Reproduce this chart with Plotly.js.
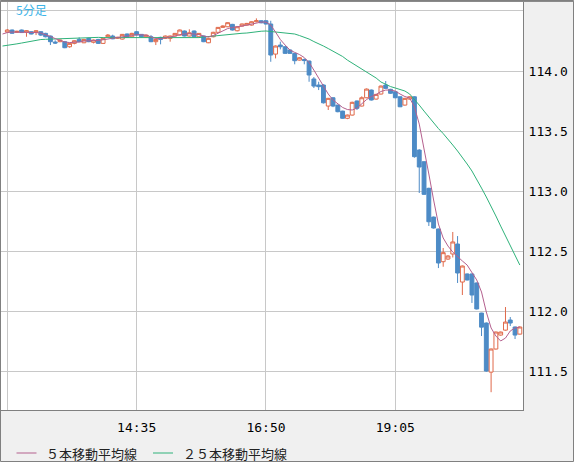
<!DOCTYPE html>
<html>
<head>
<meta charset="utf-8">
<script src="https://cdn.plot.ly/plotly-3.0.1.min.js"></script>
<style>html,body{margin:0;padding:0;background:#f0f0f0;}#chart{width:574px;height:462px;}</style>
</head>
<body>
<div id="chart"></div>
<script>
// 5-minute bars, 12:20 .. 21:15
const openP = [114.324,114.341,114.322,114.341,114.324,114.327,114.322,114.327,114.313,114.291,
114.241,114.244,114.244,114.202,114.230,114.263,114.235,114.272,114.239,114.263,
114.230,114.285,114.291,114.272,114.266,114.308,114.285,114.327,114.305,114.285,
114.285,114.244,114.280,114.272,114.272,114.291,114.299,114.333,114.291,114.333,
114.285,114.291,114.235,114.285,114.322,114.363,114.368,114.388,114.335,114.374,
114.382,114.382,114.410,114.418,114.418,114.391,114.141,114.216,114.202,114.175,
114.147,114.091,114.096,114.083,113.934,113.884,113.884,113.709,113.778,113.717,
113.667,113.607,113.634,113.751,113.709,113.778,113.842,113.767,113.809,113.884,
113.848,113.828,113.786,113.717,113.767,113.786,113.343,113.246,113.025,112.786,
112.687,112.415,112.437,112.479,112.562,112.246,112.313,112.313,112.238,111.988,
111.905,111.497,111.689,111.805,111.846,111.930,111.872,111.813];
const highP = [114.349,114.345,114.335,114.345,114.340,114.330,114.341,114.330,114.318,114.295,
114.255,114.262,114.250,114.235,114.255,114.280,114.267,114.276,114.262,114.267,
114.275,114.308,114.302,114.284,114.308,114.312,114.318,114.333,114.308,114.302,
114.299,114.267,114.285,114.295,114.295,114.316,114.345,114.337,114.347,114.337,
114.316,114.295,114.276,114.326,114.366,114.380,114.405,114.392,114.372,114.395,
114.400,114.413,114.438,114.422,114.422,114.418,114.212,114.244,114.208,114.180,
114.150,114.115,114.105,114.087,113.950,113.911,113.890,113.777,113.782,113.720,
113.670,113.638,113.745,113.755,113.790,113.855,113.846,113.810,113.880,113.917,
113.852,113.832,113.790,113.777,113.790,113.790,113.350,113.250,113.030,112.790,
112.690,112.529,112.470,112.662,112.628,112.383,112.317,112.317,112.242,111.990,
111.910,111.693,111.834,111.834,112.038,111.955,111.876,111.876];
const lowP = [114.316,114.310,114.318,114.316,114.285,114.305,114.299,114.291,114.280,114.216,
114.225,114.240,114.190,114.194,114.222,114.240,114.232,114.240,114.230,114.226,
114.226,114.282,114.265,114.268,114.262,114.276,114.280,114.295,114.280,114.282,
114.240,114.216,114.222,114.268,114.244,114.288,114.295,114.288,114.288,114.282,
114.280,114.240,114.232,114.280,114.318,114.360,114.365,114.337,114.330,114.370,
114.378,114.378,114.405,114.397,114.388,114.077,114.105,114.180,114.143,114.143,
114.056,114.088,114.056,113.911,113.859,113.842,113.730,113.676,113.700,113.657,
113.603,113.600,113.630,113.676,113.705,113.774,113.755,113.763,113.805,113.853,
113.810,113.774,113.700,113.713,113.763,113.280,112.986,112.970,112.712,112.690,
112.362,112.373,112.430,112.450,112.238,112.138,112.259,112.072,112.018,111.797,
111.500,111.330,111.685,111.800,111.842,111.880,111.772,111.810];
const closeP = [114.341,114.314,114.330,114.320,114.335,114.308,114.335,114.299,114.285,114.244,
114.233,114.258,114.194,114.230,114.252,114.244,114.263,114.244,114.258,114.230,
114.272,114.299,114.268,114.280,114.305,114.280,114.313,114.299,114.285,114.299,
114.244,114.263,114.263,114.291,114.291,114.313,114.341,114.291,114.318,114.285,
114.313,114.244,114.272,114.322,114.363,114.374,114.402,114.341,114.368,114.391,
114.396,114.410,114.418,114.401,114.391,114.133,114.208,114.202,114.147,114.147,
114.086,114.111,114.087,113.967,113.875,113.870,113.736,113.773,113.709,113.662,
113.607,113.634,113.740,113.690,113.778,113.850,113.759,113.806,113.875,113.856,
113.815,113.778,113.703,113.773,113.786,113.288,113.202,112.975,112.747,112.695,
112.404,112.490,112.462,112.579,112.321,112.379,112.263,112.138,112.022,111.871,
111.506,111.689,111.830,111.830,111.913,111.905,111.805,111.872];
// moving averages, 12:15 .. 21:15
const ma5 = [114.308,
114.320,114.324,114.324,114.324,114.324,114.320,114.320,114.316,114.303,114.287,
114.270,114.254,114.241,114.237,114.237,114.241,114.249,114.254,114.254,114.254,
114.258,114.266,114.274,114.278,114.283,114.291,114.295,114.303,114.303,114.299,
114.283,114.270,114.270,114.274,114.283,114.291,114.303,114.308,114.312,114.308,
114.303,114.291,114.283,114.295,114.316,114.337,114.353,114.362,114.366,114.374,
114.382,114.391,114.403,114.407,114.407,114.382,114.324,114.262,114.216,114.175,
114.155,114.137,114.112,114.071,114.008,113.942,113.875,113.809,113.759,113.726,
113.697,113.680,113.676,113.692,113.726,113.763,113.788,113.805,113.830,113.842,
113.842,113.834,113.809,113.788,113.776,113.701,113.559,113.360,113.144,112.928,
112.728,112.612,112.545,112.495,112.462,112.421,112.387,112.329,112.263,112.163,
111.997,111.864,111.797,111.756,111.780,111.839,111.864,111.872];
const ma25 = [114.208,
114.212,114.220,114.226,114.233,114.241,114.249,114.255,114.262,114.264,114.266,
114.268,114.269,114.271,114.272,114.274,114.276,114.278,114.280,114.280,114.280,
114.278,114.278,114.278,114.277,114.277,114.277,114.276,114.274,114.274,114.273,
114.272,114.272,114.272,114.273,114.274,114.276,114.276,114.276,114.277,114.278,
114.278,114.283,114.287,114.293,114.299,114.303,114.305,114.308,114.312,114.314,
114.316,114.322,114.327,114.331,114.333,114.328,114.324,114.319,114.316,114.313,
114.308,114.295,114.283,114.266,114.245,114.229,114.208,114.187,114.166,114.141,
114.121,114.091,114.067,114.042,114.017,113.992,113.967,113.942,113.909,113.888,
113.871,113.859,113.846,113.834,113.809,113.767,113.717,113.667,113.618,113.568,
113.522,113.480,113.435,113.385,113.335,113.285,113.227,113.169,113.102,113.027,
112.953,112.878,112.795,112.711,112.628,112.545,112.462,112.387];
const xTickVals = ['2016-06-24 12:20','2016-06-24 14:35','2016-06-24 16:50','2016-06-24 19:05'];
const xTickText = ['','14:35','16:50','19:05'];
const yTickVals = [111.5,112.0,112.5,113.0,113.5,114.0,114.5];
const yTickText = ['111.5','112.0','112.5','113.0','113.5','114.0',''];
const legendNames = ['５本移動平均線','２５本移動平均線'];
const periodLabel = '5分足';

const DAY = '2016-06-24 ';
function fmt(m){const h=Math.floor(m/60),mm=m%60;return DAY+String(h).padStart(2,'0')+':'+String(mm).padStart(2,'0');}
const maTimes = ma5.map((_,i)=>fmt(12*60+15+5*i));
const candleTimes = maTimes.slice(1);

const C_UP='#e0694a', C_DN='#4d8bc6', C_MA5='#b4608e', C_MA25='#2fb27a';

const traces = [
 {type:'candlestick', x:candleTimes, open:openP, high:highP, low:lowP, close:closeP,
  increasing:{line:{color:C_UP,width:1}, fillcolor:'#ffffff'},
  decreasing:{line:{color:C_DN,width:1}, fillcolor:C_DN},
  whiskerwidth:0, showlegend:false, hoverinfo:'skip'},
 {type:'scatter', mode:'lines', x:maTimes, y:ma25, name:legendNames[1], line:{color:C_MA25,width:1}, showlegend:false, hoverinfo:'skip'},
 {type:'scatter', mode:'lines', x:maTimes, y:ma5, name:legendNames[0], line:{color:C_MA5,width:1}, showlegend:false, hoverinfo:'skip'}
];

// pixel helpers for paper coords (plot area: x 1..523, y 2..410)
const px=(v)=>(v-1)/522, py=(v)=>(410-v)/408;
const mono={family:'DejaVu Sans Mono, monospace', size:13, color:'#000000'};
const layout = {
 width:574, height:462,
 margin:{l:1,r:51,t:2,b:52,pad:0},
 paper_bgcolor:'#f0f0f0', plot_bgcolor:'#ffffff',
 showlegend:false, hovermode:false,
 boxgap:0.15, boxgroupgap:0.05,
 xaxis:{type:'date', range:['2016-06-24 12:13:25','2016-06-24 21:18:18'], rangeslider:{visible:false},
   tickmode:'array', tickvals:xTickVals, ticktext:xTickText, ticks:'', ticklabelstandoff:5,
   showgrid:true, gridcolor:'#c8c8c8', gridwidth:1, zeroline:false,
   showline:true, linecolor:'#808080', linewidth:1, tickfont:mono, fixedrange:true},
 yaxis:{side:'right', range:[111.182,114.574], tickmode:'array', tickvals:yTickVals, ticktext:yTickText,
   ticks:'', ticklabelstandoff:2, showgrid:true, gridcolor:'#c8c8c8', gridwidth:1, zeroline:false,
   showline:true, linecolor:'#808080', linewidth:1, tickfont:mono, fixedrange:true},
 shapes:[
  {type:'rect', xref:'paper', yref:'paper', x0:px(0.5), x1:px(573.5), y0:py(461.5), y1:py(0.5), line:{color:'#808080',width:1}},
  {type:'line', xref:'paper', yref:'paper', x0:px(0), x1:px(574), y0:py(1.5), y1:py(1.5), line:{color:'#8a8a8a',width:1}},
  {type:'line', xref:'paper', yref:'paper', x0:px(16.5), x1:px(36.5), y0:py(453), y1:py(453), line:{color:C_MA5,width:1}},
  {type:'line', xref:'paper', yref:'paper', x0:px(153), x1:px(173), y0:py(453), y1:py(453), line:{color:C_MA25,width:1}}
 ],
 annotations:[
  {xref:'paper', yref:'paper', x:px(44), y:py(453), xanchor:'left', yanchor:'middle', showarrow:false, text:legendNames[0], font:{family:'Noto Sans CJK JP', size:13, color:'#222'}},
  {xref:'paper', yref:'paper', x:px(180.5), y:py(453), xanchor:'left', yanchor:'middle', showarrow:false, text:legendNames[1], font:{family:'Noto Sans CJK JP', size:13, color:'#222'}},
  {xref:'paper', yref:'paper', x:px(13.5), y:py(9.5), xanchor:'left', yanchor:'middle', showarrow:false, text:periodLabel, font:{family:'Noto Sans CJK JP', size:12, color:'#3cb4e8'}}
 ]
};
Plotly.newPlot('chart', traces, layout, {staticPlot:true, displayModeBar:false});
</script>
</body>
</html>
